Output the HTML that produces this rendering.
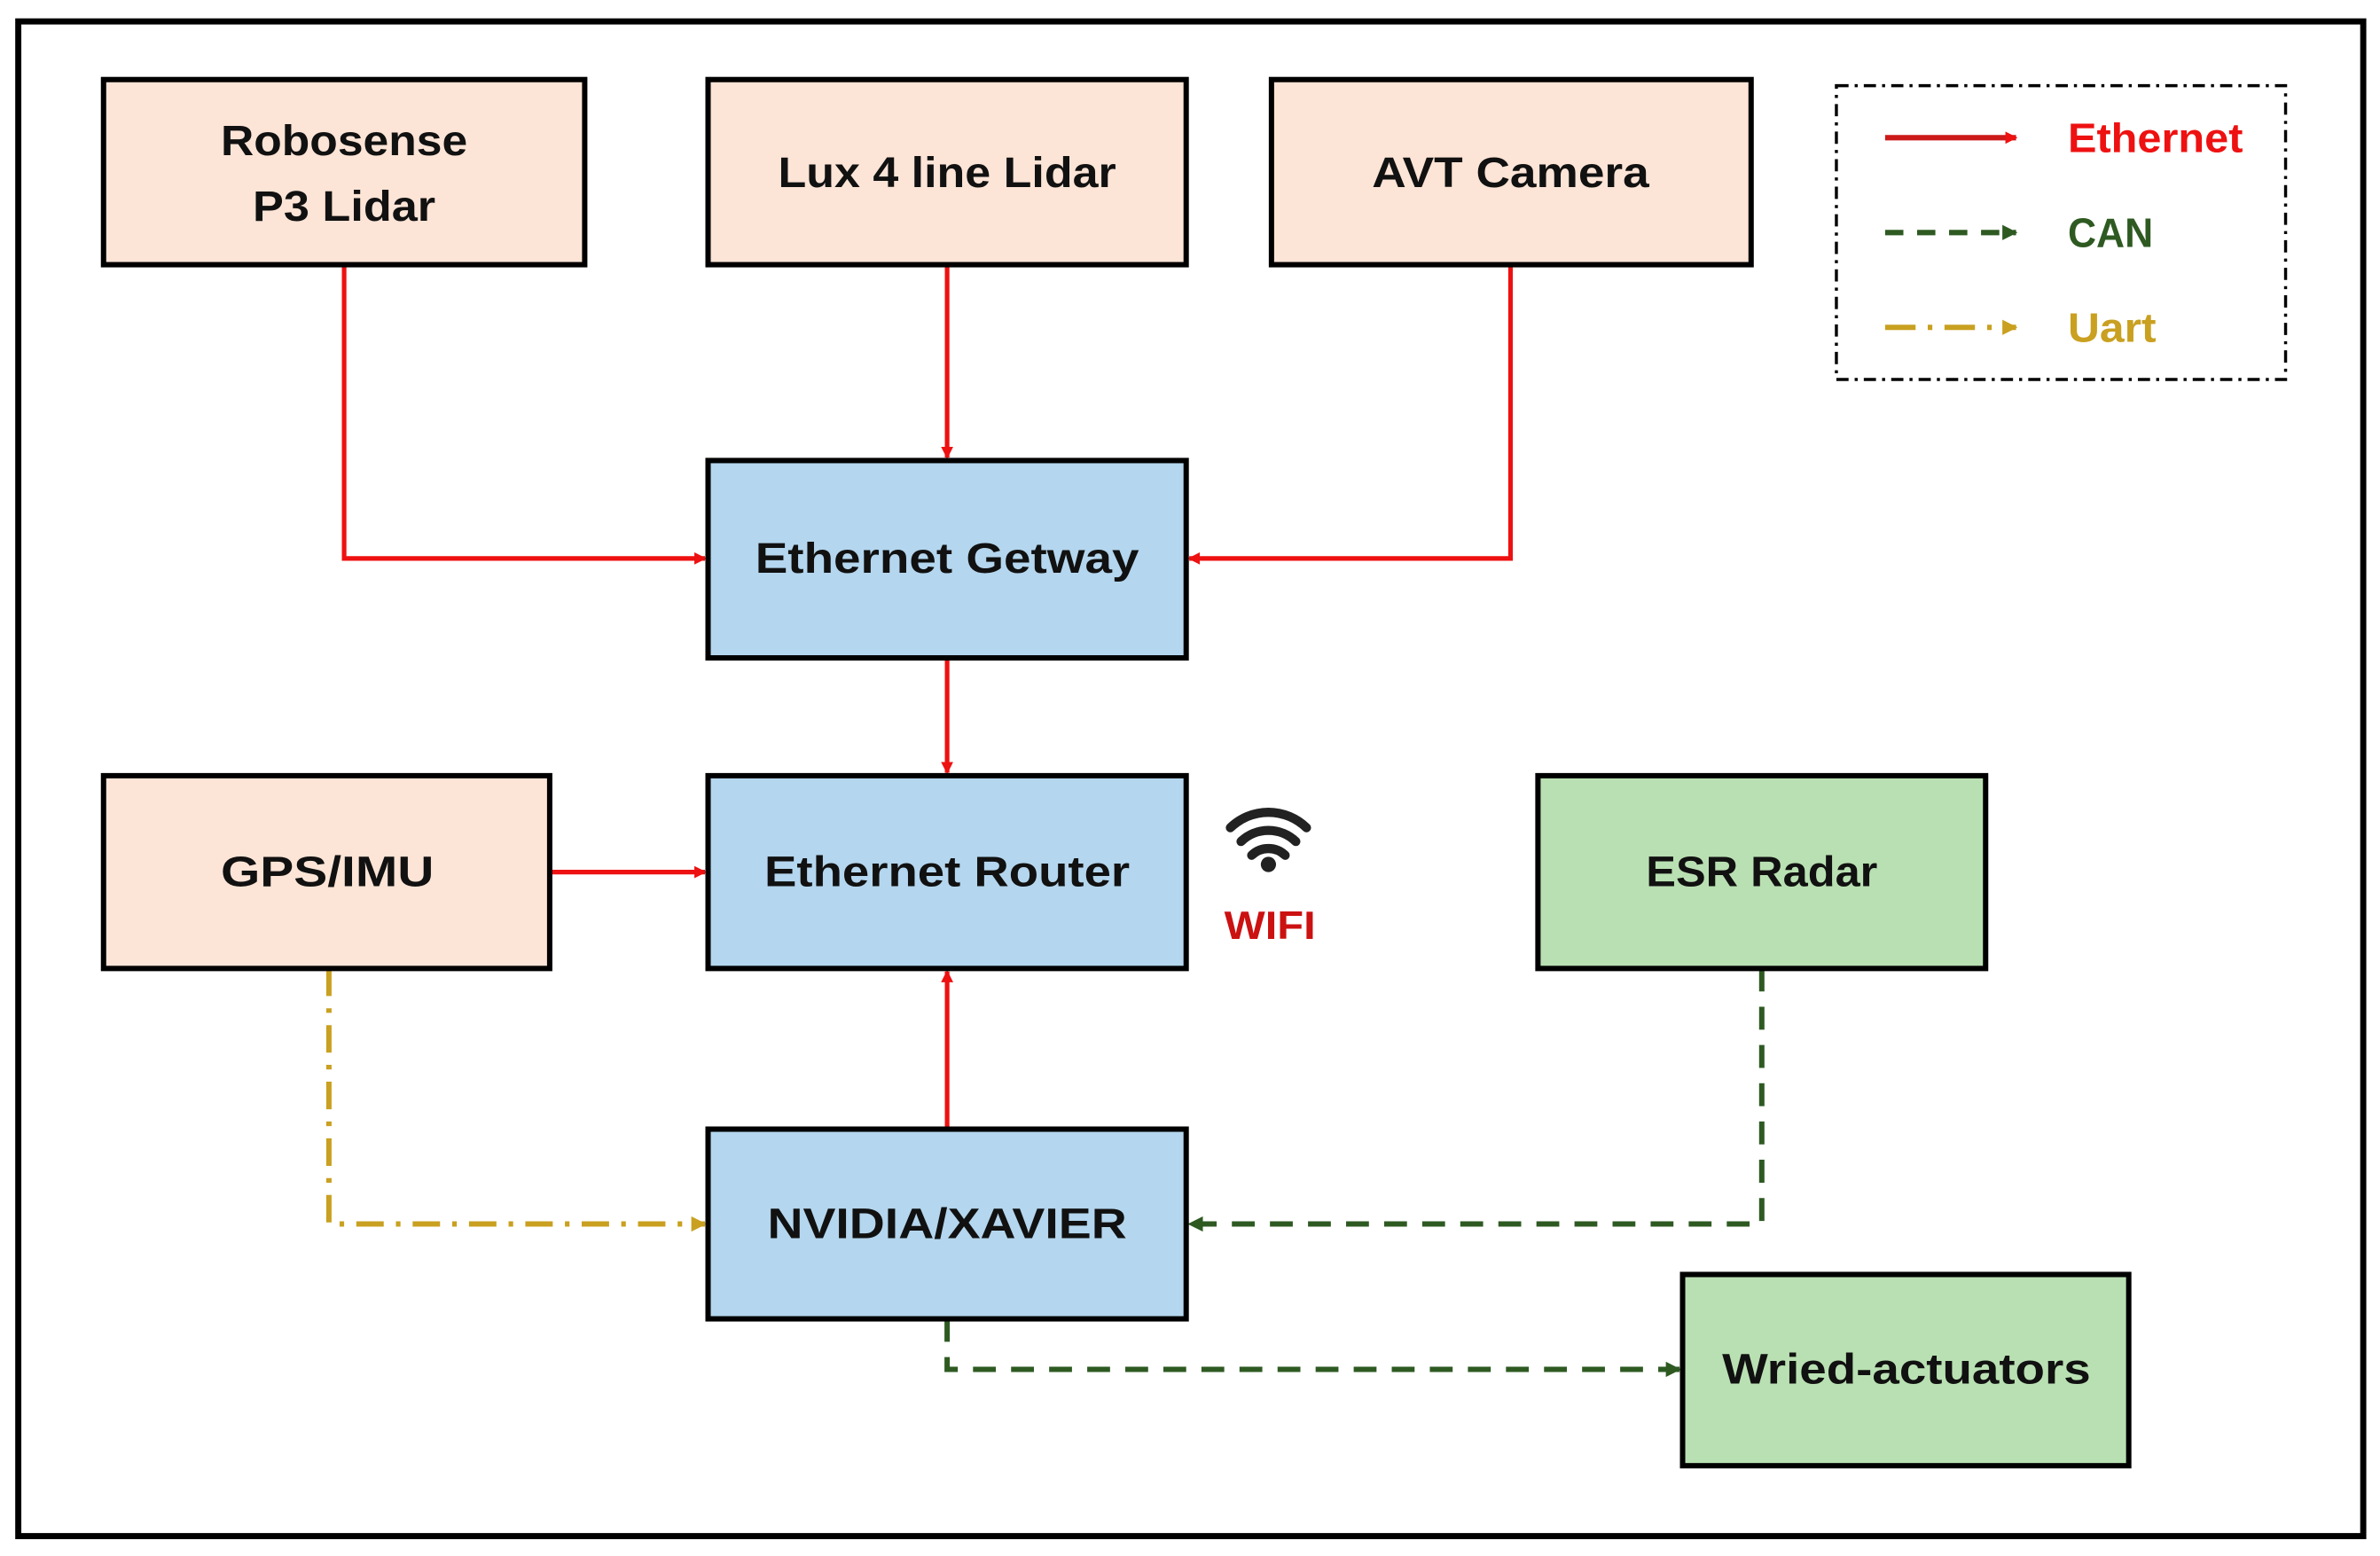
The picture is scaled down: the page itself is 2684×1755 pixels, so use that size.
<!DOCTYPE html>
<html><head><meta charset="utf-8"><style>
html,body{margin:0;padding:0;background:#fff;}
svg{display:block;}
text{font-family:"Liberation Sans",sans-serif;font-weight:bold;}
</style></head><body>
<svg width="2684" height="1755" viewBox="0 0 1563 1017" preserveAspectRatio="none" xmlns="http://www.w3.org/2000/svg">
<defs>
<marker id="ar" markerWidth="8" markerHeight="8" refX="7" refY="4" orient="auto" markerUnits="userSpaceOnUse"><path d="M0,0 L8,4 L0,8 z" fill="#ee1111"/></marker>
<marker id="ag" markerWidth="10" markerHeight="10" refX="9" refY="5" orient="auto" markerUnits="userSpaceOnUse"><path d="M0,0 L10,5 L0,10 z" fill="#2e5a22"/></marker>
<marker id="ay" markerWidth="10" markerHeight="10" refX="9" refY="5" orient="auto" markerUnits="userSpaceOnUse"><path d="M0,0 L10,5 L0,10 z" fill="#c9a020"/></marker>
</defs>
<rect x="0" y="0" width="1563" height="1017" fill="#fff"/>
<rect x="12" y="14" width="1540" height="990" fill="none" stroke="#000" stroke-width="4"/>

<!-- connectors -->
<g fill="none" stroke="#ee1111" stroke-width="3">
<polyline points="226,173 226,365 463,365" marker-end="url(#ar)"/>
<polyline points="622,173 622,299" marker-end="url(#ar)"/>
<polyline points="992,173 992,365 781,365" marker-end="url(#ar)"/>
<polyline points="622,430 622,505" marker-end="url(#ar)"/>
<polyline points="361,570 463,570" marker-end="url(#ar)"/>
<polyline points="622,738 622,635" marker-end="url(#ar)"/>
</g>
<g fill="none" stroke="#2e5a22" stroke-width="3.5" stroke-dasharray="15,10">
<polyline points="1157,633 1157,800 781,800" marker-end="url(#ag)"/>
<polyline points="622,862 622,895 1103,895" marker-end="url(#ag)"/>
</g>
<polyline points="216,633 216,800 463,800" fill="none" stroke="#c9a020" stroke-width="3.5" stroke-dasharray="18,8,3,8" marker-end="url(#ay)"/>

<!-- boxes -->
<g stroke="#000" stroke-width="3.5">
<rect x="68" y="52" width="316" height="121" fill="#fce4d6"/>
<rect x="465" y="52" width="314" height="121" fill="#fce4d6"/>
<rect x="835" y="52" width="315" height="121" fill="#fce4d6"/>
<rect x="465" y="301" width="314" height="129" fill="#b4d6ee"/>
<rect x="465" y="507" width="314" height="126" fill="#b4d6ee"/>
<rect x="68" y="507" width="293" height="126" fill="#fce4d6"/>
<rect x="1010" y="507" width="294" height="126" fill="#b9e0b2"/>
<rect x="465" y="738" width="314" height="124" fill="#b4d6ee"/>
<rect x="1105" y="833" width="293" height="125" fill="#b9e0b2"/>
</g>
<g font-size="28" fill="#111" text-anchor="middle" dominant-baseline="central">
<text x="226" y="92" textLength="162" lengthAdjust="spacingAndGlyphs">Robosense</text>
<text x="226" y="135" textLength="120" lengthAdjust="spacingAndGlyphs">P3 Lidar</text>
<text x="622" y="113" textLength="222" lengthAdjust="spacingAndGlyphs">Lux 4 line Lidar</text>
<text x="992" y="113" textLength="182" lengthAdjust="spacingAndGlyphs">AVT Camera</text>
<text x="622" y="365" textLength="252" lengthAdjust="spacingAndGlyphs">Ethernet Getway</text>
<text x="622" y="570" textLength="240" lengthAdjust="spacingAndGlyphs">Ethernet Router</text>
<text x="215" y="570" textLength="140" lengthAdjust="spacingAndGlyphs">GPS/IMU</text>
<text x="1157" y="570" textLength="152" lengthAdjust="spacingAndGlyphs">ESR Radar</text>
<text x="622" y="800" textLength="236" lengthAdjust="spacingAndGlyphs">NVIDIA/XAVIER</text>
<text x="1252" y="895" textLength="242" lengthAdjust="spacingAndGlyphs">Wried-actuators</text>
</g>

<!-- wifi -->
<g fill="none" stroke="#222" stroke-width="6" stroke-linecap="round">
<path d="M808,541 A36,36 0 0 1 858,541"/>
<path d="M815,550 A26,26 0 0 1 851,550"/>
<path d="M822,559 A16,16 0 0 1 844,559"/>
</g>
<circle cx="833" cy="565" r="5" fill="#222"/>
<text x="834" y="605" font-size="26" fill="#cc1111" text-anchor="middle" dominant-baseline="central" textLength="60" lengthAdjust="spacingAndGlyphs">WIFI</text>

<!-- legend -->
<rect x="1206" y="56" width="295" height="192" fill="none" stroke="#000" stroke-width="2" stroke-dasharray="8,4,2,4"/>
<line x1="1238" y1="90" x2="1324" y2="90" stroke="#cc1a1a" stroke-width="3.5" marker-end="url(#ar)"/>
<line x1="1238" y1="152" x2="1324" y2="152" stroke="#2e5a22" stroke-width="3.5" stroke-dasharray="12,9" marker-end="url(#ag)"/>
<line x1="1238" y1="214" x2="1324" y2="214" stroke="#c9a020" stroke-width="3.5" stroke-dasharray="20,8,3,8" marker-end="url(#ay)"/>
<g font-size="27" dominant-baseline="central">
<text x="1358" y="90" fill="#ee1111" textLength="115" lengthAdjust="spacingAndGlyphs">Ethernet</text>
<text x="1358" y="152" fill="#2e5a22" textLength="56" lengthAdjust="spacingAndGlyphs">CAN</text>
<text x="1358" y="214" fill="#c9a020" textLength="58" lengthAdjust="spacingAndGlyphs">Uart</text>
</g>
</svg>
</body></html>
